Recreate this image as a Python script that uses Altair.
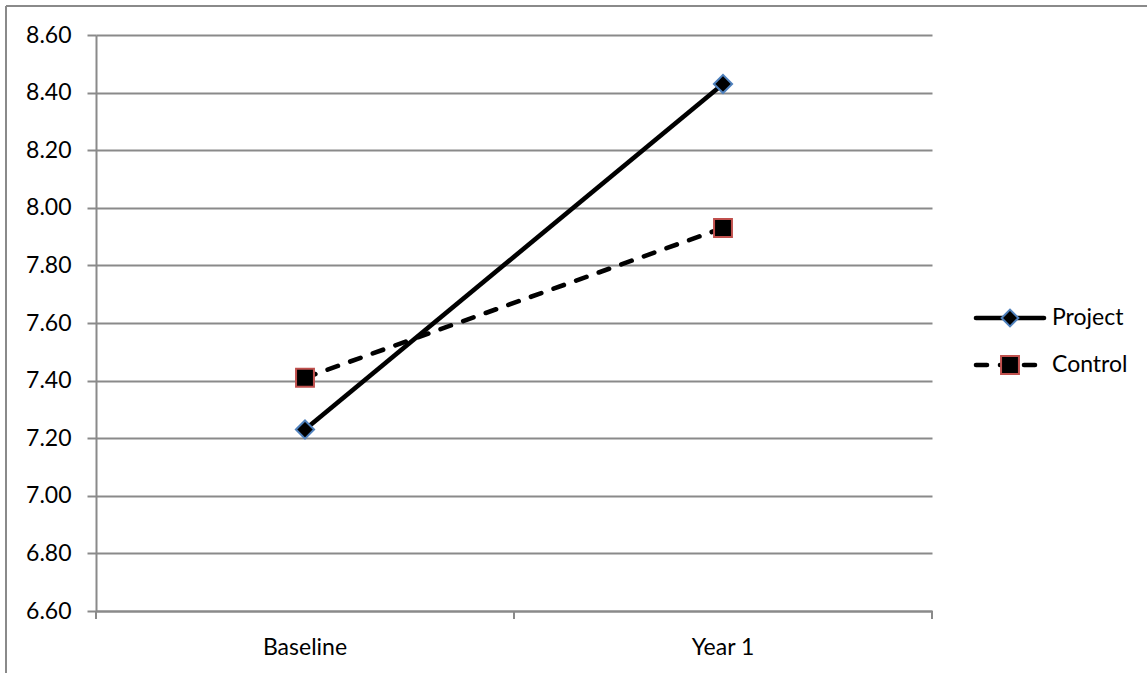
import altair as alt
import pandas as pd

# Series values read per period
categories = ["Baseline", "Year 1"]
project_values = [7.23, 8.43]
control_values = [7.41, 7.93]
series_names = ["Project", "Control"]
y_ticks = [6.6, 6.8, 7.0, 7.2, 7.4, 7.6, 7.8, 8.0, 8.2, 8.4, 8.6]

FONT = "Lato"
GRID = "#8a8a8a"
BLUE = "#4F81BD"
RED = "#C0504D"
LINE_W = 4.6
DASH = [11, 13]
DIAMOND_SIZE = 330
SQUARE_SIZE = 320

rows = []
for name, vals in zip(series_names, [project_values, control_values]):
    for cat, v in zip(categories, vals):
        rows.append({"period": cat, "series": name, "value": v})
df = pd.DataFrame(rows)
cat_df = pd.DataFrame({"period": categories})

x_scale = alt.Scale(domain=categories, paddingInner=0, paddingOuter=0)
y_scale = alt.Scale(domain=[6.6, 8.6], nice=False, zero=False)

x_enc = alt.X(
    "period:N", scale=x_scale, sort=categories, title=None,
    axis=alt.Axis(ticks=False, labelAngle=0, labelPadding=25, labelFont=FONT,
                  labelFontSize=23, labelColor="#000000", domainColor=GRID,
                  domainWidth=2, grid=False),
)
y_enc = alt.Y(
    "value:Q", scale=y_scale, title=None,
    axis=alt.Axis(values=y_ticks, format=".2f", tickSize=9, tickColor=GRID,
                  tickWidth=2, labelPadding=16, labelFont=FONT, labelFontSize=23,
                  labelColor="#000000", grid=True, gridColor=GRID, gridWidth=2,
                  domainColor=GRID, domainWidth=2),
)

base = alt.Chart(df)

project = base.transform_filter(alt.datum.series == "Project")
control = base.transform_filter(alt.datum.series == "Control")

project_line = project.mark_line(color="black", strokeWidth=LINE_W).encode(x=x_enc, y=y_enc)
control_line = control.mark_line(color="black", strokeWidth=LINE_W, strokeDash=DASH,
                                 strokeCap="round").encode(x=x_enc, y=y_enc)
project_pts = project.mark_point(shape="diamond", filled=False, fill="black",
                                 stroke=BLUE, strokeWidth=2, size=DIAMOND_SIZE,
                                 opacity=1).encode(x=x_enc, y=y_enc)
control_pts = control.mark_point(shape="square", filled=False, fill="black",
                                 stroke=RED, strokeWidth=2, size=SQUARE_SIZE,
                                 opacity=1).encode(x=x_enc, y=y_enc)

# Category boundary ticks under the x axis
tick_start = alt.Chart(cat_df).mark_rule(color=GRID, strokeWidth=2).encode(
    x=alt.X("period:N", scale=x_scale, sort=categories, bandPosition=0),
    y=alt.value(576), y2=alt.value(584))
tick_end = alt.Chart(cat_df).mark_rule(color=GRID, strokeWidth=2).encode(
    x=alt.X("period:N", scale=x_scale, sort=categories, bandPosition=1),
    y=alt.value(576), y2=alt.value(584))

# Legend: line sample with marker, then label
leg_df = pd.DataFrame({"series": series_names})
leg_y = {"Project": 283, "Control": 330}
leg_p = alt.Chart(leg_df).transform_filter(alt.datum.series == "Project")
leg_c = alt.Chart(leg_df).transform_filter(alt.datum.series == "Control")
leg_line_p = leg_p.mark_rule(color="black", strokeWidth=LINE_W, strokeCap="round").encode(
    x=alt.value(880), x2=alt.value(948), y=alt.value(leg_y["Project"]))
leg_line_c = leg_c.mark_rule(color="black", strokeWidth=LINE_W, strokeCap="round",
                             strokeDash=DASH).encode(
    x=alt.value(880), x2=alt.value(948), y=alt.value(leg_y["Control"]))
leg_pt_p = leg_p.mark_point(shape="diamond", filled=False, fill="black", stroke=BLUE,
                            strokeWidth=2, size=280, opacity=1).encode(
    x=alt.value(914), y=alt.value(leg_y["Project"]))
leg_pt_c = leg_c.mark_point(shape="square", filled=False, fill="black", stroke=RED,
                            strokeWidth=2, size=SQUARE_SIZE, opacity=1).encode(
    x=alt.value(914), y=alt.value(leg_y["Control"]))
leg_txt_p = leg_p.mark_text(align="left", baseline="middle", font=FONT, fontSize=23,
                            color="black").encode(
    x=alt.value(956), y=alt.value(leg_y["Project"]), text="series:N")
leg_txt_c = leg_c.mark_text(align="left", baseline="middle", font=FONT, fontSize=23,
                            color="black").encode(
    x=alt.value(956), y=alt.value(leg_y["Control"]), text="series:N")

# Outer chart frame (left and top edges)
frame_left = alt.Chart(leg_df.head(1)).mark_rule(color=GRID, strokeWidth=2).encode(
    x=alt.value(-90), y=alt.value(-29), y2=alt.value(700))
frame_top = alt.Chart(leg_df.head(1)).mark_rule(color=GRID, strokeWidth=2).encode(
    x=alt.value(-90), x2=alt.value(1100), y=alt.value(-29))

chart = alt.layer(
    project_line, control_line, project_pts, control_pts,
    tick_start, tick_end,
    leg_line_p, leg_line_c, leg_pt_p, leg_pt_c, leg_txt_p, leg_txt_c,
    frame_left, frame_top,
).properties(
    width=836, height=576,
    padding={"left": 96, "top": 35, "right": 215, "bottom": 62},
    autosize=alt.AutoSizeParams(type="none"),
    background="white",
).configure_view(stroke=None)

chart.save("out.html", embed_options={"renderer": "svg", "actions": False})
